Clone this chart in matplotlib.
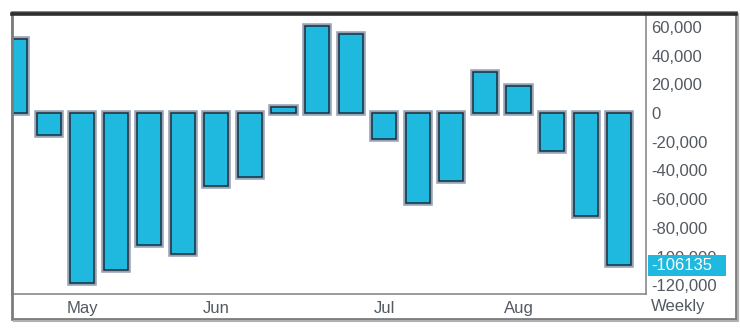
import numpy as np
import matplotlib
matplotlib.use('Agg')
import matplotlib.pyplot as plt
import matplotlib.patheffects as pe
from matplotlib.patches import Rectangle
from matplotlib.lines import Line2D
import matplotlib.transforms as mtrans

plt.rcParams['font.family'] = ['Liberation Sans', 'DejaVu Sans']

# weekly values
weekly = [51500, -15300, -118000, -109000, -92000, -98000, -51000, -44600, 4200,
          60600, 55000, -18000, -63000, -47000, 28500, 18800, -26500, -72000, -106135]
months = ['May', 'Jun', 'Jul', 'Aug']
month_pos = [2, 6, 11, 15]
yticks = [60000, 40000, 20000, 0, -20000, -40000, -60000, -80000, -100000, -120000]
last_label = '-106135'

W, H = 740, 332
fig = plt.figure(figsize=(W / 100, H / 100), dpi=100)
fig.patch.set_facecolor('white')

# axes box in pixels: x 12..646, y 14..294
ax = fig.add_axes([12 / W, 1 - 294 / H, (646 - 12) / W, (294 - 14) / H])

x = np.arange(len(weekly))
cyan = '#1fb9e0'
ax.bar(x, weekly, width=0.72, color=cyan, edgecolor='#1c2e3c', linewidth=1.1,
       path_effects=[pe.Stroke(linewidth=4, foreground='#98a2b6'), pe.Normal()])

ax.set_xlim(-0.09, 18.8)
ax.set_ylim(-126000, 68900)

txt = '#535961'
fs = 12
ax.yaxis.tick_right()
ax.set_yticks(yticks)
ax.set_yticklabels(['{:,}'.format(v) for v in yticks], color=txt, fontsize=fs)
ax.tick_params(axis='y', length=0, pad=4)
for lab in ax.get_yticklabels():
    lab.set_horizontalalignment('left')

ax.set_xticks(month_pos)
ax.set_xticklabels(months, color=txt, fontsize=fs)
ax.tick_params(axis='x', length=0, pad=5)

for s in ['left', 'right', 'bottom']:
    ax.spines[s].set_color('#8a8a8a')
    ax.spines[s].set_linewidth(1.2)
ax.spines['top'].set_visible(False)

# last value marker on the right axis
tr = mtrans.blended_transform_factory(ax.transAxes, ax.transData)
bw = (726 - 648) / (646 - 12)
bh = 21 / 1.436 * 1000
ax.add_patch(Rectangle((1.003, weekly[-1] - bh / 2), bw, bh, transform=tr,
                       facecolor=cyan, edgecolor='none', clip_on=False, zorder=5))
ax.text(1.009, weekly[-1], last_label, transform=tr, color='white', fontsize=fs,
        va='center', ha='left', zorder=6, clip_on=False)

fig.text(678 / W, 1 - 307 / H, 'Weekly', color=txt, fontsize=fs, ha='center', va='center')

# outer frame with a slight shadow on the bottom/right
fig.add_artist(Line2D([738 / W, 738 / W, 14 / W], [1 - 14 / H, 1 - 321 / H, 1 - 321 / H],
                      transform=fig.transFigure, color='#b0b0b0', lw=1.5))
fig.add_artist(Rectangle((12 / W, 1 - 319 / H), (736 - 12) / W, (319 - 12) / H,
                         transform=fig.transFigure, fill=False, edgecolor='#7c7c7c', lw=2))
fig.add_artist(Line2D([12 / W, 736 / W], [1 - 13.5 / H, 1 - 13.5 / H],
                      transform=fig.transFigure, color='#2e2e2e', lw=2.6))

fig.savefig('out.png', dpi=100)
